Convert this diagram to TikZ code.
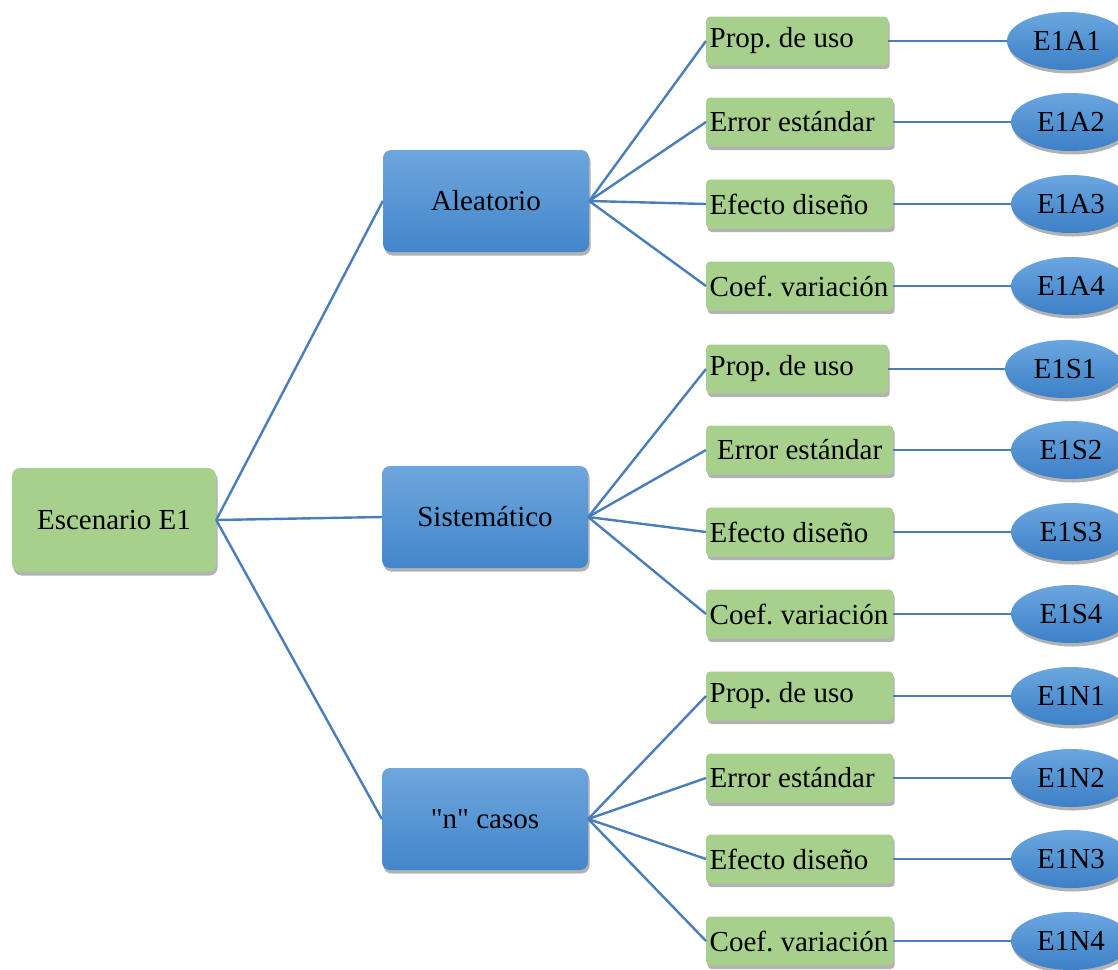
\documentclass[tikz,border=0pt]{standalone}
\usepackage{fontspec}
\setmainfont{Liberation Serif}[Ligatures=TeXOff]
\usetikzlibrary{shadows,shapes.geometric}
\definecolor{leafgreen}{HTML}{A8D08D}
\definecolor{bluetop}{HTML}{6EA6DD}
\definecolor{bluebot}{HTML}{4386CB}
\definecolor{elltop}{HTML}{6BA6DF}
\definecolor{ellbot}{HTML}{3C80C7}
\definecolor{linkblue}{HTML}{4A7EBB}
\newcommand{\leaftext}[2]{\makebox[#1][l]{#2}}
\tikzset{
  shad/.style={drop shadow={shadow xshift=1.5pt,shadow yshift=-3.5pt,fill=black,opacity=0.3}},
  txt/.style={font=\fontsize{29}{33}\selectfont\frenchspacing, text=black},
  rootbox/.style={txt, shad, rectangle, rounded corners=8pt, fill=leafgreen, minimum width=204pt, minimum height=104pt, inner sep=0pt},
  midbox/.style={txt, shad, rectangle, rounded corners=8pt, top color=bluetop, bottom color=bluebot, minimum width=206pt, minimum height=102pt, inner sep=0pt},
  leafbox/.style={txt, shad, rectangle, rounded corners=4pt, fill=leafgreen, minimum height=49pt, inner xsep=3.5pt, inner ysep=0pt, anchor=west},
  ellnode/.style={txt, shad, ellipse, top color=elltop, bottom color=ellbot, minimum width=120pt, minimum height=58pt, inner sep=0pt},
  link/.style={draw=linkblue, line width=2.4pt},
}
\begin{document}
\begin{tikzpicture}[x=1pt,y=-1pt]
\useasboundingbox (0,0) rectangle (1118,969);
\node[rootbox] (root) at (114,520) {Escenario E1};
\node[midbox] (A) at (486,201) {Aleatorio};
\node[midbox] (S) at (485,517) {Sistemático};
\node[midbox] (N) at (485,819) {"n" casos};
% Aleatorio leaves
\node[leafbox] (A1) at (706,41) {\leaftext{175pt}{Prop. de uso}};
\node[leafbox] (A2) at (706,122) {\leaftext{180pt}{Error estándar}};
\node[leafbox] (A3) at (706,204) {\leaftext{180pt}{Efecto diseño}};
\node[leafbox] (A4) at (706,286) {\leaftext{180pt}{Coef. variación}};
% Sistematico leaves
\node[leafbox] (S1) at (706,369) {\leaftext{175pt}{Prop. de uso}};
\node[leafbox] (S2) at (706,450) {\makebox[180pt][c]{Error estándar}};
\node[leafbox] (S3) at (706,532) {\leaftext{180pt}{Efecto diseño}};
\node[leafbox] (S4) at (706,614) {\leaftext{180pt}{Coef. variación}};
% n casos leaves
\node[leafbox] (N1) at (706,696) {\leaftext{180pt}{Prop. de uso}};
\node[leafbox] (N2) at (706,778) {\leaftext{180pt}{Error estándar}};
\node[leafbox] (N3) at (706,859) {\leaftext{180pt}{Efecto diseño}};
\node[leafbox] (N4) at (706,941) {\leaftext{180pt}{Coef. variación}};
% ellipses
\node[ellnode] (EA1) at (1067,41) {E1A1};
\node[ellnode] (EA2) at (1071,122) {E1A2};
\node[ellnode] (EA3) at (1071,204) {E1A3};
\node[ellnode] (EA4) at (1071,286) {E1A4};
\node[ellnode] (ES1) at (1065,369) {E1S1};
\node[ellnode] (ES2) at (1071,450) {E1S2};
\node[ellnode] (ES3) at (1071,532) {E1S3};
\node[ellnode] (ES4) at (1071,614) {E1S4};
\node[ellnode] (EN1) at (1071,696) {E1N1};
\node[ellnode] (EN2) at (1071,778) {E1N2};
\node[ellnode] (EN3) at (1071,859) {E1N3};
\node[ellnode] (EN4) at (1071,941) {E1N4};
% connectors
\foreach \m in {A,S,N}{
  \draw[link] (root.east) -- (\m.west);
  \foreach \i in {1,2,3,4}{
    \draw[link] (\m.east) -- (\m\i.west);
    \draw[link] (\m\i.east) -- (E\m\i.west);
  }
}
\end{tikzpicture}
\end{document}
